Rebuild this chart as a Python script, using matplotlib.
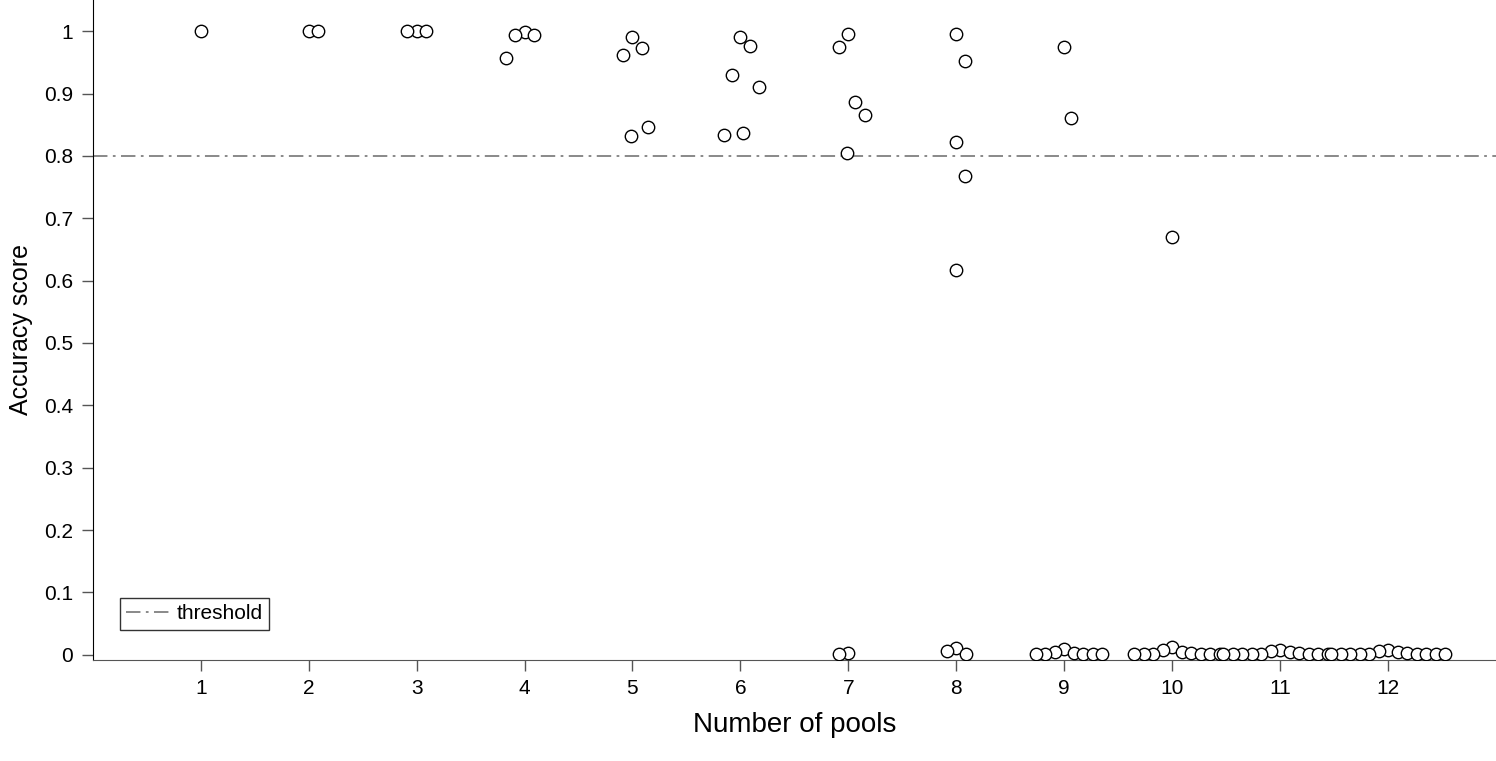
import numpy as np
import matplotlib.pyplot as plt

plt.rcParams['font.family'] = ['Liberation Sans', 'DejaVu Sans']

# accuracy scores per number of pools
pools = list(range(1, 13))
acc_1 = [1.0]
acc_2 = [1.0, 1.0]
acc_3 = [1.0, 1.0, 1.0]
acc_4 = [0.998, 0.994, 0.994, 0.957]
acc_5 = [0.99, 0.973, 0.962, 0.847, 0.832]
acc_6 = [0.99, 0.976, 0.93, 0.91, 0.836, 0.833]
acc_7 = [0.996, 0.974, 0.886, 0.866, 0.804, 0.003, 0.002]
acc_8 = [0.996, 0.952, 0.823, 0.768, 0.617, 0.011, 0.006, 0.001]
acc_9 = [0.974, 0.861, 0.009, 0.004, 0.003, 0.002, 0.001, 0.001, 0.001, 0.001]
acc_10 = [0.67, 0.012, 0.007, 0.004, 0.003, 0.002, 0.001, 0.001, 0.001, 0.001, 0.001]
acc_11 = [0.008, 0.006, 0.004, 0.003, 0.002, 0.001, 0.001, 0.001, 0.001, 0.001, 0.001, 0.001]
acc_12 = [0.008, 0.006, 0.004, 0.003, 0.002, 0.002, 0.001, 0.001, 0.001, 0.001, 0.001, 0.001, 0.001]
scores = [acc_1, acc_2, acc_3, acc_4, acc_5, acc_6, acc_7, acc_8, acc_9, acc_10, acc_11, acc_12]
threshold = 0.8

fig, ax = plt.subplots(figsize=(14.96, 7.61), dpi=100)
fig.subplots_adjust(left=0.062, right=1.0, bottom=0.133, top=1.0)
ax.set_xlim(0, 13)
ax.set_ylim(-0.008, 1.05)


def swarm(ys, d=0.088, ypx=624.0):
    # simple beeswarm: place each point as close to the center as possible
    placed = []
    for y in ys:
        cands = sorted(set([0.0] + [px + s * np.sqrt(max(d**2 - ((y - py) * ypx / 107.8 * 0.1 * 10 / 10) ** 2 * 0 - (((y - py) * 6.24) * d) ** 2, 0)) for px, py in placed for s in (-1, 1)]), key=abs)
        for c in cands:
            if all((c - px) ** 2 + (((y - py) * 6.24) * d) ** 2 >= d ** 2 * 0.999 for px, py in placed):
                placed.append((c, y))
                break
    return [p[0] for p in placed]


for n, ys in zip(pools, scores):
    offs = swarm(ys)
    ax.scatter(np.array(offs) + n, ys, s=80, facecolors='white', edgecolors='black', linewidths=1.0, zorder=3)

ax.axhline(threshold, color='#808080', linestyle='-.', linewidth=1.3, label='threshold', dashes=(8, 3, 1.5, 3))

ax.set_xticks(pools)
ax.set_yticks(np.round(np.arange(0, 1.01, 0.1), 1))
ax.set_yticklabels(['0', '0.1', '0.2', '0.3', '0.4', '0.5', '0.6', '0.7', '0.8', '0.9', '1'])
ax.tick_params(labelsize=15, length=8, width=1, color='#555555', pad=6)
ax.set_xlabel('Number of pools', fontsize=20, labelpad=10)
ax.set_ylabel('Accuracy score', fontsize=18, labelpad=8)
ax.spines['top'].set_visible(False)
ax.spines['right'].set_visible(False)
ax.spines['bottom'].set_color('#555555')

leg = ax.legend(loc='lower left', fontsize=15, frameon=True, fancybox=False, handlelength=2.2,
                handletextpad=0.2, borderpad=0.3, bbox_to_anchor=(0.012, 0.03))
leg.get_frame().set_edgecolor('black')
leg.get_frame().set_linewidth(1.0)

fig.savefig('out.png', dpi=100)
